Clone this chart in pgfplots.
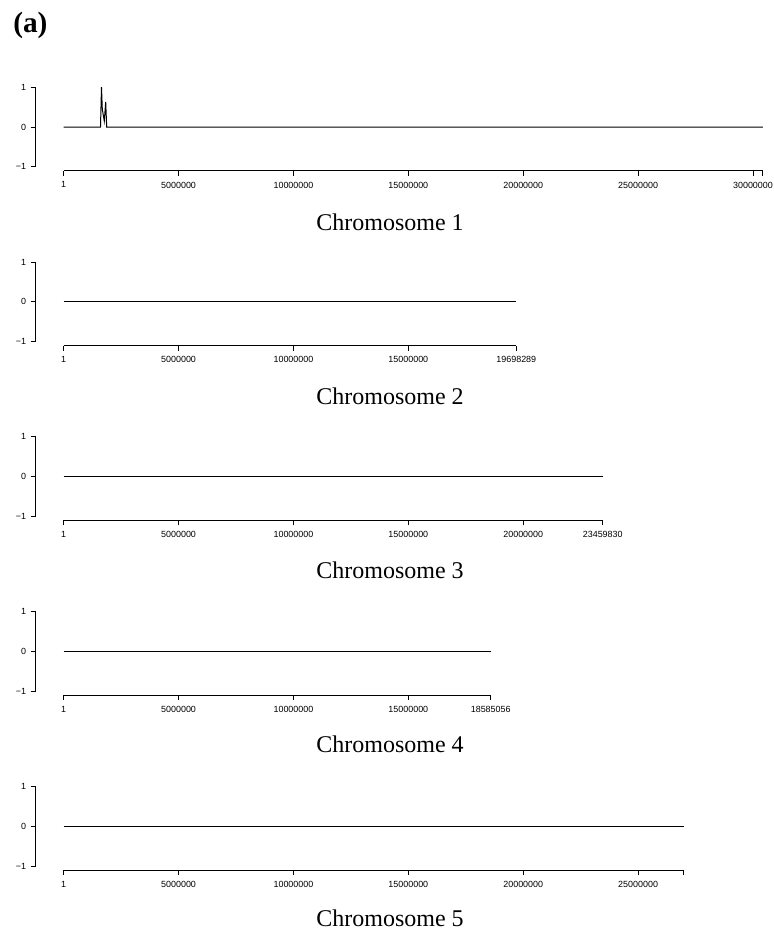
\documentclass[border=0pt]{standalone}
\usepackage{fontspec}
\setmainfont{Liberation Serif}
\newfontfamily\helv{Liberation Sans}
\usepackage{pgfplots}
\pgfplotsset{compat=1.18}
\pgfplotsset{
 chrom/.style={
  scale only axis, width=553.7pt, height=65.7pt,
  xmin=-1218600, xmax=30913000, ymin=-1.1, ymax=1.1,
  axis x line*=bottom, axis y line*=left,
  axis line style={draw=none},
  tick align=outside,
  major tick length=3.75pt,
  tick style={black, line width=0.6pt},
  ytick={-1,0,1}, yticklabels={−1,0,1},
  ticklabel style={font=\helv\fontsize{6.7}{8}\selectfont},
  xticklabel style={yshift=-1pt},
  xlabel style={font=\fontsize{18}{21}\selectfont, anchor=base, at={(axis description cs:0.48,#1)}},
  clip=false,
  anchor=south west,
  scaled x ticks=false,
  scaled y ticks=false,
 }
}
\begin{document}
\begin{tikzpicture}
\useasboundingbox (0,0) rectangle (580.5pt,-702pt);
\node[anchor=base west, font=\bfseries\fontsize{22}{26}\selectfont, inner sep=0pt] at (9.75pt,-24.5pt) {(a)};

% Chromosome 1
\begin{axis}[chrom=-0.679, at={(26.775pt,-128.1pt)},
  xtick={1,5000000,10000000,15000000,20000000,25000000,30000000,30427671},
  xticklabels={1,5000000,10000000,15000000,20000000,25000000,30000000,{}},
  xlabel={Chromosome 1}]
\draw[line width=0.6pt] (axis cs:1,-1.1) -- (axis cs:30427671,-1.1);
\draw[line width=0.6pt] (axis cs:-1218600,-1) -- (axis cs:-1218600,1);
\addplot[black, line width=0.75pt] coordinates {
 (1,0) (1601610,0) (1645000,1) (1680000,0.45) (1723000,0.3) (1767000,0.15) (1828000,0.63) (1871000,0) (30427671,0)};
\end{axis}

% Chromosome 2
\begin{axis}[chrom=-0.670, at={(26.775pt,-259.2pt)},
  xtick={1,5000000,10000000,15000000,19698289},
  xticklabels={1,5000000,10000000,15000000,19698289},
  xlabel={Chromosome 2}]
\draw[line width=0.6pt] (axis cs:1,-1.1) -- (axis cs:19698289,-1.1);
\draw[line width=0.6pt] (axis cs:-1218600,-1) -- (axis cs:-1218600,1);
\addplot[black, line width=0.75pt] coordinates {(1,0) (19698289,0)};
\end{axis}

% Chromosome 3
\begin{axis}[chrom=-0.661, at={(26.775pt,-390.3pt)},
  xtick={1,5000000,10000000,15000000,20000000,23459830},
  xticklabels={1,5000000,10000000,15000000,20000000,23459830},
  xlabel={Chromosome 3}]
\draw[line width=0.6pt] (axis cs:1,-1.1) -- (axis cs:23459830,-1.1);
\draw[line width=0.6pt] (axis cs:-1218600,-1) -- (axis cs:-1218600,1);
\addplot[black, line width=0.75pt] coordinates {(1,0) (23459830,0)};
\end{axis}

% Chromosome 4
\begin{axis}[chrom=-0.652, at={(26.775pt,-521.4pt)},
  xtick={1,5000000,10000000,15000000,18585056},
  xticklabels={1,5000000,10000000,15000000,18585056},
  xlabel={Chromosome 4}]
\draw[line width=0.6pt] (axis cs:1,-1.1) -- (axis cs:18585056,-1.1);
\draw[line width=0.6pt] (axis cs:-1218600,-1) -- (axis cs:-1218600,1);
\addplot[black, line width=0.75pt] coordinates {(1,0) (18585056,0)};
\end{axis}

% Chromosome 5
\begin{axis}[chrom=-0.643, at={(26.775pt,-652.5pt)},
  xtick={1,5000000,10000000,15000000,20000000,25000000,26975502},
  xticklabels={1,5000000,10000000,15000000,20000000,25000000,{}},
  xlabel={Chromosome 5}]
\draw[line width=0.6pt] (axis cs:1,-1.1) -- (axis cs:26975502,-1.1);
\draw[line width=0.6pt] (axis cs:-1218600,-1) -- (axis cs:-1218600,1);
\addplot[black, line width=0.75pt] coordinates {(1,0) (26975502,0)};
\end{axis}
\end{tikzpicture}
\end{document}
